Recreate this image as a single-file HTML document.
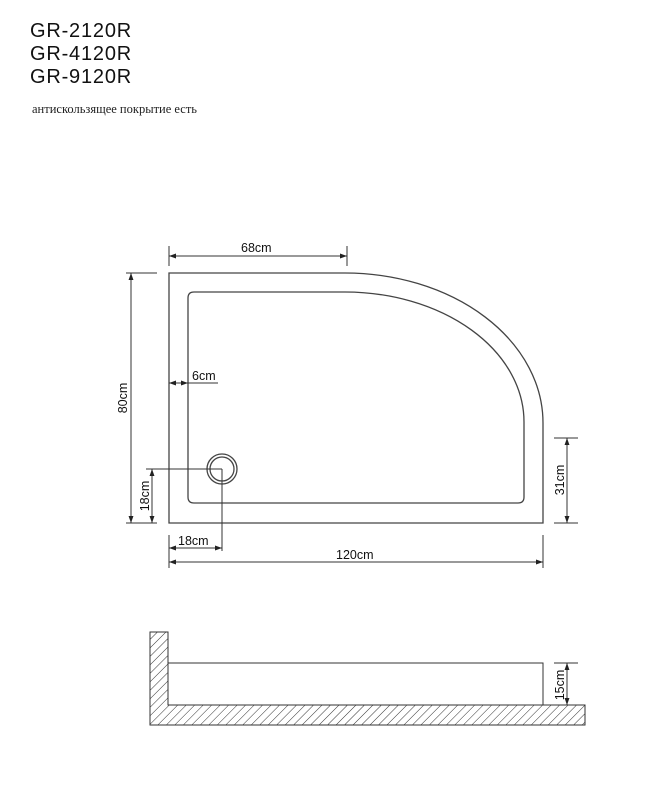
<!DOCTYPE html>
<html><head><meta charset="utf-8"><style>
body{margin:0;background:#fff;width:649px;height:788px;overflow:hidden}
</style></head><body>
<svg width="649" height="788" viewBox="0 0 649 788" xmlns="http://www.w3.org/2000/svg">
<defs>
<marker id="a" viewBox="0 0 10 10" refX="10" refY="5" markerWidth="7" markerHeight="7" orient="auto-start-reverse"><path d="M0,1.5 L10,5 L0,8.5 z" fill="#222"/></marker>
<pattern id="h" width="6" height="6" patternUnits="userSpaceOnUse" patternTransform="rotate(45)"><line x1="0" y1="0" x2="0" y2="6" stroke="#333" stroke-width="1"/></pattern>
</defs>
<g font-family="Liberation Sans, sans-serif" fill="#111" font-size="20" letter-spacing="0.8">
<text x="30" y="37">GR-2120R</text>
<text x="30" y="60">GR-4120R</text>
<text x="30" y="83">GR-9120R</text>
</g>
<text x="32" y="113" font-family="Liberation Serif, serif" font-size="12.5" fill="#222">антискользящее покрытие есть</text>
<g fill="none" stroke="#444" stroke-width="1.3">
<path d="M169,273 L345,273 A198,150 0 0 1 543,423 L543,523 L169,523 Z"/>
<path d="M194,292 L345,292 A179,130 0 0 1 524,422 L524,497 Q524,503 518,503 L194,503 Q188,503 188,497 L188,298 Q188,292 194,292 Z"/>
<circle cx="222" cy="469" r="15"/><circle cx="222" cy="469" r="12"/>
</g>
<g stroke="#333" stroke-width="1" fill="none">
<line x1="169" y1="246" x2="169" y2="266"/><line x1="347" y1="246" x2="347" y2="266"/>
<line x1="169" y1="256" x2="347" y2="256" marker-start="url(#a)" marker-end="url(#a)"/>
<line x1="126" y1="273" x2="157" y2="273"/><line x1="126" y1="523" x2="157" y2="523"/>
<line x1="131" y1="273" x2="131" y2="523" marker-start="url(#a)" marker-end="url(#a)"/>
<line x1="146" y1="469" x2="222" y2="469"/>
<line x1="152" y1="469" x2="152" y2="523" marker-start="url(#a)" marker-end="url(#a)"/>
<line x1="222" y1="469" x2="222" y2="551"/>
<line x1="169" y1="535" x2="169" y2="568"/><line x1="543" y1="535" x2="543" y2="568"/>
<line x1="169" y1="548" x2="222" y2="548" marker-start="url(#a)" marker-end="url(#a)"/>
<line x1="169" y1="562" x2="543" y2="562" marker-start="url(#a)" marker-end="url(#a)"/>
<line x1="169" y1="383" x2="188" y2="383" marker-start="url(#a)" marker-end="url(#a)"/>
<line x1="188" y1="383" x2="218" y2="383"/>
<line x1="554" y1="438" x2="578" y2="438"/><line x1="554" y1="523" x2="578" y2="523"/>
<line x1="567" y1="438" x2="567" y2="523" marker-start="url(#a)" marker-end="url(#a)"/>
<line x1="554" y1="663" x2="578" y2="663"/>
<line x1="567" y1="663" x2="567" y2="705" marker-start="url(#a)" marker-end="url(#a)"/>
</g>
<g font-family="Liberation Sans, sans-serif" font-size="12.5" fill="#111">
<text x="241" y="252">68cm</text>
<text x="192" y="380">6cm</text>
<text x="178" y="545">18cm</text>
<text x="336" y="559">120cm</text>
<text transform="translate(127,398) rotate(-90)" text-anchor="middle">80cm</text>
<text transform="translate(149,496) rotate(-90)" text-anchor="middle">18cm</text>
<text transform="translate(564,480) rotate(-90)" text-anchor="middle">31cm</text>
<text transform="translate(564,685) rotate(-90)" text-anchor="middle">15cm</text>
</g>
<path d="M150,632 L168,632 L168,705 L585,705 L585,725 L150,725 Z" fill="url(#h)" stroke="#333" stroke-width="1"/>
<rect x="168" y="663" width="375" height="42" fill="#fff" stroke="#333" stroke-width="1"/>
</svg>
</body></html>
